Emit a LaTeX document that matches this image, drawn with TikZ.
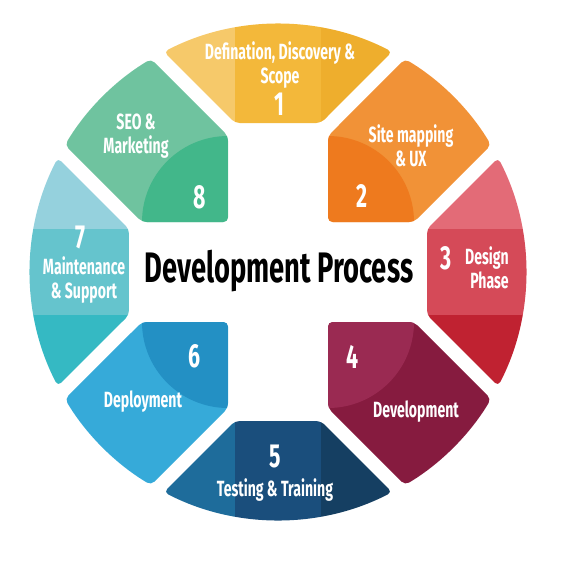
\documentclass[tikz,border=0pt]{standalone}
\usepackage{fontspec}
\usepackage{xcolor}
\usepackage{tikz}
\usetikzlibrary{positioning}

\newfontfamily\condfont{Fira Sans}[FakeStretch=0.64]

\definecolor{yelA}{HTML}{F6C96A}
\definecolor{yelB}{HTML}{F3B83A}
\definecolor{yelC}{HTML}{EEAE2D}
\definecolor{oraA}{HTML}{F19237}
\definecolor{oraB}{HTML}{EE7A1E}
\definecolor{redA}{HTML}{E36B77}
\definecolor{redB}{HTML}{D54A58}
\definecolor{redC}{HTML}{C02231}
\definecolor{burA}{HTML}{861B3F}
\definecolor{burB}{HTML}{9A2A52}
\definecolor{navA}{HTML}{153F62}
\definecolor{navB}{HTML}{1A4E7C}
\definecolor{navC}{HTML}{1E6C9B}
\definecolor{bluA}{HTML}{36AAD9}
\definecolor{bluB}{HTML}{2390C4}
\definecolor{tealA}{HTML}{35B9C3}
\definecolor{tealB}{HTML}{65C4CD}
\definecolor{tealC}{HTML}{95D1DD}
\definecolor{grnA}{HTML}{6FC39F}
\definecolor{grnB}{HTML}{42B78A}

\begin{document}
\begin{tikzpicture}[
    x=0.75pt, y=0.75pt,
    sideshape/.style={insert path={(-43,149) -- (117.4:248) arc[start angle=117.4, end angle=62.6, radius=248] -- (43,149) -- cycle}},
    cornershape/.style={insert path={(50,50) -- (50,136) -- (59.2:248) arc[start angle=59.2, end angle=30.8, radius=248] -- (136,50) -- cycle}},
    piececlip/.style={rounded corners=3.5pt},
    lbl/.style={text=white, align=center, font=\condfont\bfseries\fontsize{16.5}{18}\selectfont, inner sep=0pt},
    num/.style={text=white, font=\condfont\bfseries\fontsize{25}{25}\selectfont, inner sep=0pt},
]
\useasboundingbox (-278,-289) rectangle (292,272);

% 1 top
\begin{scope}
  \clip[piececlip, sideshape];
  \fill[yelA] (-300,0) rectangle (-43,300);
  \fill[yelB] (-43,0) rectangle (43,300);
  \fill[yelC] (43,0) rectangle (300,300);
\end{scope}

% 2 top right
\begin{scope}
  \clip[piececlip, cornershape];
  \fill[oraA] (0,0) rectangle (300,300);
  \fill[oraB] (50,50) -- (50,136) arc[start angle=90, end angle=0, radius=86] -- cycle;
\end{scope}

% 3 right
\begin{scope}[rotate=-90]
  \clip[piececlip, sideshape];
  \fill[redA] (-300,0) rectangle (-43,300);
  \fill[redB] (-43,0) rectangle (43,300);
  \fill[redC] (43,0) rectangle (300,300);
\end{scope}

% 4 bottom right
\begin{scope}[rotate=-90]
  \clip[piececlip, cornershape];
  \fill[burA] (0,0) rectangle (300,300);
  \fill[burB] (50,50) -- (50,136) arc[start angle=90, end angle=0, radius=86] -- cycle;
\end{scope}

% 5 bottom
\begin{scope}[rotate=180]
  \clip[piececlip, sideshape];
  \fill[navA] (-300,0) rectangle (-43,300);
  \fill[navB] (-43,0) rectangle (43,300);
  \fill[navC] (43,0) rectangle (300,300);
\end{scope}

% 6 bottom left
\begin{scope}[rotate=180]
  \clip[piececlip, cornershape];
  \fill[bluA] (0,0) rectangle (300,300);
  \fill[bluB] (50,50) -- (50,136) arc[start angle=90, end angle=0, radius=86] -- cycle;
\end{scope}

% 7 left
\begin{scope}[rotate=90]
  \clip[piececlip, sideshape];
  \fill[tealA] (-300,0) rectangle (-43,300);
  \fill[tealB] (-43,0) rectangle (43,300);
  \fill[tealC] (43,0) rectangle (300,300);
\end{scope}

% 8 top left
\begin{scope}[rotate=90]
  \clip[piececlip, cornershape];
  \fill[grnA] (0,0) rectangle (300,300);
  \fill[grnB] (50,50) -- (50,136) arc[start angle=90, end angle=0, radius=86] -- cycle;
\end{scope}

% Labels
\node[lbl] (scope) at (2,207) {Defination, Discovery \&\\Scope};
\node[num] (n1) at (1,168) {1};

\node[lbl] (sitemap) at (133,126) {Site mapping\\\& UX};
\node[num] (n2) at (84,76) {2};

\node[lbl, align=right, anchor=east] (design) at (231,4) {Design\\Phase};
\node[num] (n3) at (168,14) {3};

\node[lbl] (develop) at (138,-140) {Development};
\node[num] (n4) at (75,-85) {4};

\node[lbl] (testing) at (-3,-218) {Testing \& Training};
\node[num] (n5) at (-3,-185) {5};

\node[lbl] (deploy) at (-135,-130) {Deployment};
\node[num] (n6) at (-83,-84) {6};

\node[lbl] (maint) at (-194,-8) {Maintenance\\\& Support};
\node[num] (n7) at (-198,35) {7};

\node[lbl] (seo) at (-142,136) {SEO \&\\Marketing};
\node[num] (n8) at (-78,75) {8};

% Title
\node[anchor=base, inner sep=0pt, font=\condfont\bfseries\fontsize{32}{32}\selectfont, text=black] (title) at (1,-10) {Development Process};

\end{tikzpicture}
\end{document}
